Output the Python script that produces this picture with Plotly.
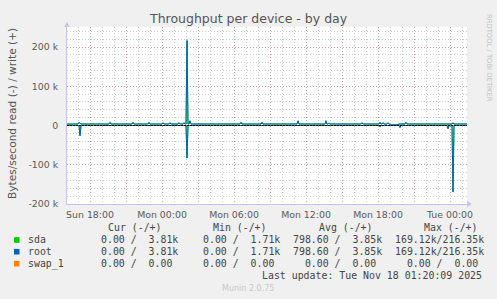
import plotly.graph_objects as go

# ---------------- data ----------------
times = [
    "2025-11-16 16:05", "2025-11-16 17:00", "2025-11-16 17:05", "2025-11-16 17:10", "2025-11-16 17:15",
    "2025-11-16 19:35", "2025-11-16 19:40", "2025-11-16 19:45",
    "2025-11-16 21:30", "2025-11-16 21:35", "2025-11-16 21:40",
    "2025-11-16 22:50", "2025-11-16 22:55", "2025-11-16 23:00",
    "2025-11-17 00:00", "2025-11-17 00:05", "2025-11-17 00:10",
    "2025-11-17 00:35", "2025-11-17 00:40", "2025-11-17 00:45",
    "2025-11-17 01:20", "2025-11-17 01:25", "2025-11-17 01:30",
    "2025-11-17 01:45", "2025-11-17 01:50", "2025-11-17 01:55",
    "2025-11-17 02:00", "2025-11-17 02:05", "2025-11-17 02:10",
    "2025-11-17 02:15", "2025-11-17 02:20", "2025-11-17 02:25",
    "2025-11-17 06:30", "2025-11-17 06:35", "2025-11-17 06:40",
    "2025-11-17 08:15", "2025-11-17 08:20", "2025-11-17 08:25",
    "2025-11-17 11:15", "2025-11-17 11:20", "2025-11-17 11:25",
    "2025-11-17 13:35", "2025-11-17 13:40", "2025-11-17 13:45",
    "2025-11-17 13:50", "2025-11-17 13:55", "2025-11-17 14:00",
    "2025-11-17 16:35", "2025-11-17 16:40", "2025-11-17 16:45",
    "2025-11-17 18:05", "2025-11-17 18:10", "2025-11-17 18:15",
    "2025-11-17 18:20", "2025-11-17 18:25", "2025-11-17 18:30",
    "2025-11-17 18:45", "2025-11-17 18:50", "2025-11-17 18:55",
    "2025-11-17 19:05", "2025-11-17 19:35",
    "2025-11-17 19:45", "2025-11-17 19:50", "2025-11-17 19:55",
    "2025-11-17 20:15", "2025-11-17 20:20", "2025-11-17 20:25",
    "2025-11-17 23:45", "2025-11-17 23:50", "2025-11-17 23:55",
    "2025-11-18 00:10", "2025-11-18 00:15", "2025-11-18 00:20",
    "2025-11-18 01:25",
]
write_bps = [
    3800, 3800, 8000, 5000, 3800,
    3800, 8000, 3800,
    3800, 8000, 3800,
    3800, 8000, 3800,
    3800, 7000, 3800,
    3800, 7000, 3800,
    3800, 7000, 3800,
    3800, 7000, 3800,
    3800, 216350, 3800,
    3800, 12000, 3800,
    3800, 8000, 3800,
    3800, 8000, 3800,
    3800, 12000, 3800,
    3800, 12000, 3800,
    3800, 6000, 3800,
    3800, 7000, 3800,
    3800, 8000, 3800,
    3800, 7000, 3800,
    3800, 7000, 3800,
    1710, 1710,
    3800, 3800, 3800,
    3800, 8000, 3800,
    3800, 3800, 3800,
    3800, 7000, 3800,
    3810,
]
read_bps = [
    0, 0, 0, -26000, 0,
    0, 0, 0,
    0, 0, 0,
    0, 0, 0,
    0, 0, 0,
    0, 0, 0,
    0, 0, 0,
    0, 0, 0,
    0, -83000, 0,
    0, 0, 0,
    0, 0, 0,
    0, 0, 0,
    0, 0, 0,
    0, 0, 0,
    0, 0, 0,
    0, 0, 0,
    0, -3000, 0,
    0, 0, 0,
    0, 0, 0,
    0, 0,
    0, -5000, 0,
    0, 0, 0,
    0, -8000, 0,
    0, -169120, 0,
    0,
]
swap_times = ["2025-11-16 16:05", "2025-11-18 01:25"]
swap_write = [0, 0]
swap_read = [0, 0]

series_names = ["sda", "root", "swap_1"]
series_colors = ["#00CC00", "#0066B3", "#FF8000"]

x_tickvals = [
    "2025-11-16 18:00", "2025-11-16 21:00", "2025-11-17 00:00", "2025-11-17 03:00",
    "2025-11-17 06:00", "2025-11-17 09:00", "2025-11-17 12:00", "2025-11-17 15:00",
    "2025-11-17 18:00", "2025-11-17 21:00", "2025-11-18 00:00",
]
x_ticktext = ["Sun 18:00", "", "Mon 00:00", "", "Mon 06:00", "", "Mon 12:00", "",
              "Mon 18:00", "", "Tue 00:00"]
y_tickvals = [-200000, -100000, 0, 100000, 200000]
y_ticktext = ["-200 k", "-100 k", "0", "100 k", "200 k"]

header_cols = ["Cur (-/+)", "Min (-/+)", "Avg (-/+)", "Max (-/+)"]
legend_rows = [
    ["0.00 /  3.81k", "0.00 /  1.71k", "798.60 /  3.85k", "169.12k/216.35k"],
    ["0.00 /  3.81k", "0.00 /  1.71k", "798.60 /  3.85k", "169.12k/216.35k"],
    ["0.00 /  0.00", "0.00 /  0.00", "  0.00 /  0.00", "  0.00 /  0.00"],
]
title_text = "Throughput per device - by day"
ytitle_text = "Bytes/second read (-) / write (+)"
update_text = "Last update: Tue Nov 18 01:20:09 2025"
munin_text = "Munin 2.0.75"
rrd_text = "RRDTOOL / TOBI OETIKER"

# ---------------- layout geometry ----------------
W, H = 497, 299
L, R, T, B = 67, 467, 27, 204


def px(xp):
    return (xp - L) / (R - L)


def py(yp):
    return (B - yp) / (B - T)


def nb(s):
    return s.replace(" ", "\u00a0")


fig = go.Figure()

# swap first (underneath), then sda, then root
fig.add_trace(go.Scatter(x=swap_times, y=swap_write, mode="lines",
                         line=dict(color=series_colors[2], width=1), showlegend=False))
fig.add_trace(go.Scatter(x=swap_times, y=swap_read, mode="lines",
                         line=dict(color=series_colors[2], width=1), showlegend=False))
for i in range(2):
    fig.add_trace(go.Scatter(x=times, y=read_bps, mode="lines",
                             line=dict(color=series_colors[i], width=1),
                             showlegend=False))
    fig.add_trace(go.Scatter(x=times, y=write_bps, mode="lines",
                             line=dict(color=series_colors[i], width=1),
                             showlegend=False))

red_grid = "rgba(230,120,120,0.6)"
gray_grid = "rgba(170,170,170,0.6)"
axis_col = "#C4C4F0"
tick_font = dict(family="DejaVu Sans", size=9.4, color="#5a5a5a")
mono = "DejaVu Sans Mono"
gdash = "1px,2px"

fig.update_layout(
    width=W, height=H, autosize=False,
    margin=dict(l=L, r=W - R, t=T, b=H - B, pad=0),
    paper_bgcolor="#F0F0F0", plot_bgcolor="#FFFFFF",
    showlegend=False,
    xaxis=dict(
        type="date",
        range=["2025-11-16 16:05", "2025-11-18 01:25"],
        tickmode="array", tickvals=x_tickvals, ticktext=x_ticktext,
        showgrid=True, gridcolor=red_grid, griddash=gdash, gridwidth=1,
        minor=dict(dtick=3600000, tick0="2025-11-16 00:00", showgrid=True,
                   gridcolor=gray_grid, griddash=gdash, gridwidth=1),
        showline=True, linecolor=axis_col, linewidth=1,
        ticks="", tickfont=tick_font, zeroline=False, fixedrange=True,
        ticklabelstandoff=2,
    ),
    yaxis=dict(
        range=[-200000, 251000],
        tickmode="array", tickvals=y_tickvals, ticktext=y_ticktext,
        showgrid=True, gridcolor=red_grid, griddash=gdash, gridwidth=1,
        minor=dict(dtick=20000, tick0=0, showgrid=True,
                   gridcolor=gray_grid, griddash=gdash, gridwidth=1),
        showline=True, linecolor=axis_col, linewidth=1,
        ticks="", tickfont=tick_font, zeroline=False, fixedrange=True,
        ticklabelstandoff=6,
    ),
)

# zero line (black, drawn above traces)
fig.add_shape(type="line", xref="paper", yref="y", x0=0, x1=1, y0=0, y1=0,
              line=dict(color="#000000", width=1, dash="2px,1px"), layer="above")

# axis arrows
fig.add_shape(type="path", xref="paper", yref="paper",
              path=f"M {px(R)},{py(B-3)} L {px(R+5)},{py(B)} L {px(R)},{py(B+3)} Z",
              fillcolor=axis_col, line=dict(width=0), layer="above")
fig.add_shape(type="path", xref="paper", yref="paper",
              path=f"M {px(L-3)},{py(T)} L {px(L)},{py(T-5)} L {px(L+3)},{py(T)} Z",
              fillcolor=axis_col, line=dict(width=0), layer="above")

ann = []
ann.append(dict(text=title_text, x=px(248), y=py(19), xref="paper", yref="paper",
                showarrow=False, xanchor="center", yanchor="middle",
                font=dict(family="DejaVu Sans", size=12.5, color="#555555")))
ann.append(dict(text=ytitle_text, x=px(12), y=py(114), xref="paper", yref="paper",
                showarrow=False, xanchor="center", yanchor="middle", textangle=-90,
                font=dict(family="DejaVu Sans", size=10.6, color="#555555")))
ann.append(dict(text=rrd_text, x=px(489), y=py(58), xref="paper", yref="paper",
                showarrow=False, xanchor="center", yanchor="middle", textangle=90,
                font=dict(family="DejaVu Sans", size=6.8, color="#C0C0C0")))

leg_font = dict(family=mono, size=9.9, color="#454545")
header_x = [107.3, 212.3, 318.3, 422.7]
col_x = [100, 201.7, 292.3, 394.3]
row_y = [240, 251.7, 263.7]
for hx, htxt in zip(header_x, header_cols):
    ann.append(dict(text=nb(htxt), x=px(hx), y=py(227.3), xref="paper", yref="paper",
                    showarrow=False, xanchor="left", yanchor="middle", font=leg_font))
for ri, (name, vals) in enumerate(zip(series_names, legend_rows)):
    ann.append(dict(text=nb(name), x=px(26.7), y=py(row_y[ri]), xref="paper", yref="paper",
                    showarrow=False, xanchor="left", yanchor="middle", font=leg_font))
    for cx, v in zip(col_x, vals):
        ann.append(dict(text=nb(v), x=px(cx), y=py(row_y[ri]), xref="paper", yref="paper",
                        showarrow=False, xanchor="left", yanchor="middle", font=leg_font))
    fig.add_shape(type="rect", xref="paper", yref="paper",
                  x0=px(14), x1=px(19.5), y0=py(row_y[ri] - 2.8), y1=py(row_y[ri] + 2.8),
                  fillcolor=series_colors[ri], line=dict(width=0))
ann.append(dict(text=nb(update_text), x=px(483), y=py(275.3), xref="paper", yref="paper",
                showarrow=False, xanchor="right", yanchor="middle", font=leg_font))
ann.append(dict(text=munin_text, x=px(248), y=py(288.5), xref="paper", yref="paper",
                showarrow=False, xanchor="center", yanchor="middle",
                font=dict(family="DejaVu Sans", size=8, color="#C8C8C8")))
for a in ann:
    a["borderpad"] = 0
fig.update_layout(annotations=ann)

fig.write_html("out.html")
